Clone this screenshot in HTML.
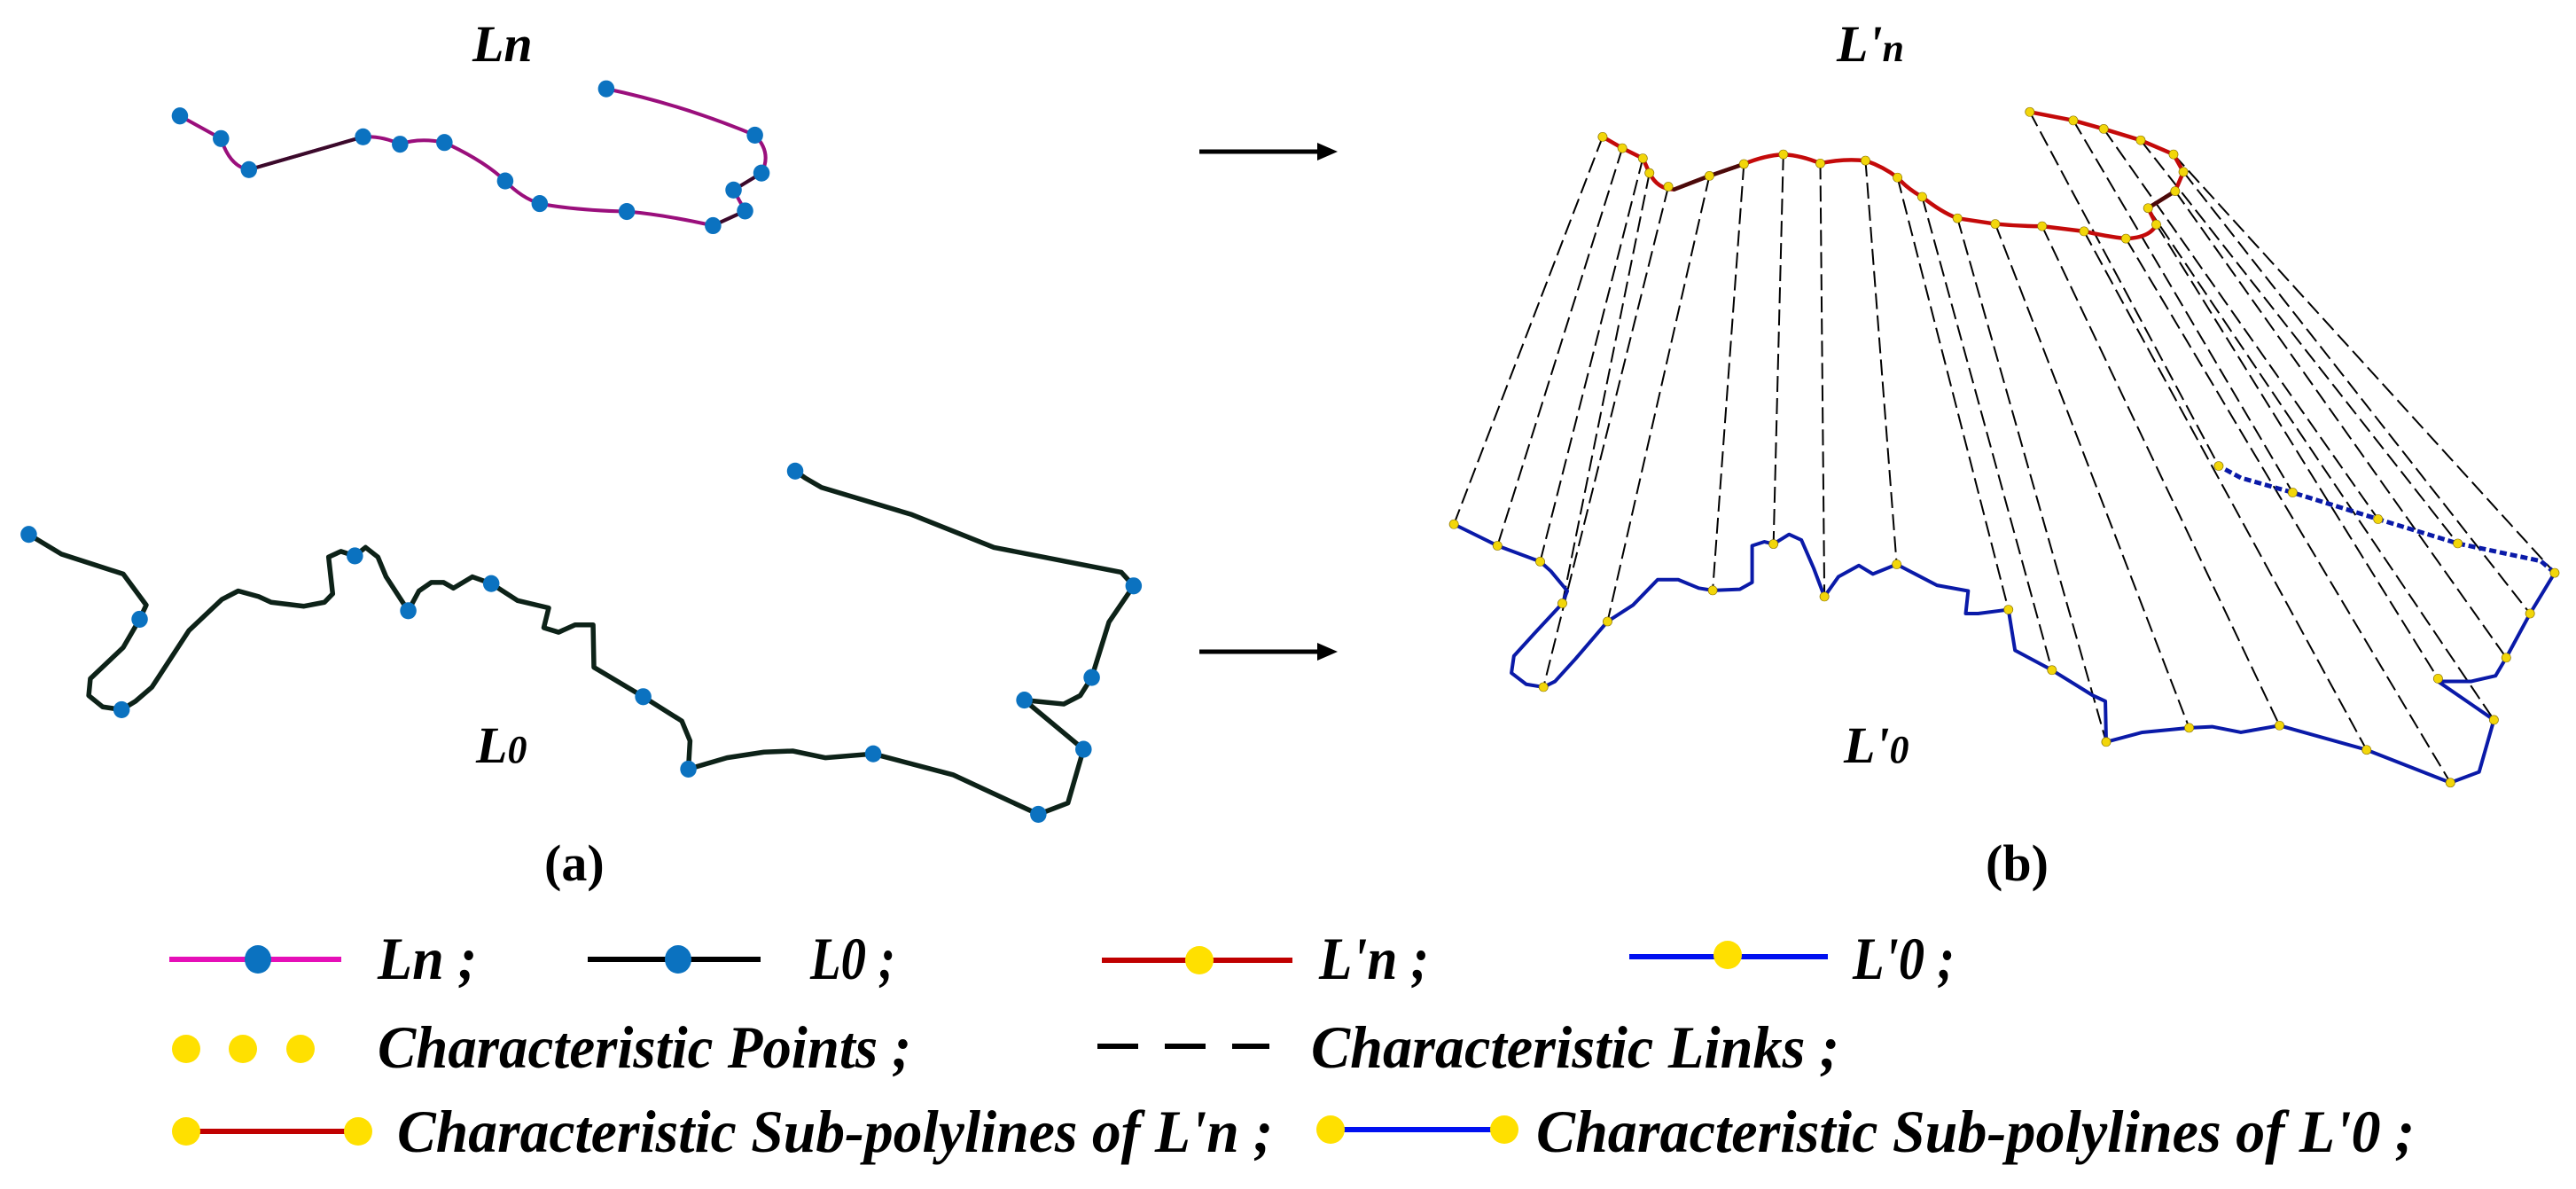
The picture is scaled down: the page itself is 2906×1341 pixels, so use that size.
<!DOCTYPE html>
<html><head><meta charset="utf-8"><style>
html,body{margin:0;padding:0;background:#fff;}
svg{display:block;}
text{font-family:"Liberation Serif",serif;font-weight:bold;font-style:italic;fill:#000;}
</style></head><body>
<svg width="2906" height="1341" viewBox="0 0 2906 1341" xmlns="http://www.w3.org/2000/svg">
<!-- LEFT PANEL in zoom coords -->
<g transform="scale(0.9267,0.6378)">
 <g fill="none" stroke-linejoin="round" stroke-linecap="round">
  <path vector-effect="non-scaling-stroke" stroke="#9a0f7c" stroke-width="4" d="M219,205 L269,245 Q280,295 303,300 L442,242 Q465,240 487,255 Q510,243 541,252 Q590,285 615,320 Q635,350 657,360 Q700,372 763,374 Q810,380 868,399 L907,373 L893,336 L927,306 Q940,270 919,239 Q830,185 738,157"/>
  <path vector-effect="non-scaling-stroke" stroke="#3a0a2a" stroke-width="4" d="M303,300 L442,242 M893,336 L927,306 M868,399 L907,373"/>
  <path vector-effect="non-scaling-stroke" stroke="#0d2218" stroke-width="5.5" d="M35,945 L75,980 L150,1015 L178,1070 L170,1095 L150,1145 L110,1200 L108,1230 L125,1250 L148,1255 L165,1240 L185,1215 L230,1115 L270,1060 L290,1045 L315,1055 L330,1065 L370,1072 L395,1065 L405,1050 L400,985 L415,975 L432,983 L445,968 L460,985 L470,1020 L497,1080 L510,1045 L525,1030 L540,1030 L552,1040 L575,1020 L598,1032 L630,1062 L668,1075 L662,1110 L680,1118 L700,1105 L722,1105 L723,1180 L783,1232 L830,1275 L840,1310 L838,1360 L885,1340 L930,1330 L965,1328 L1005,1340 L1063,1333 L1160,1370 L1264,1440 L1300,1420 L1312,1360 L1319,1325 L1247,1238 L1295,1245 L1315,1230 L1329,1198 L1350,1100 L1380,1036 L1365,1012 L1210,968 L1110,910 L1000,862 L980,845 L968,833"/>
 </g>
 <g fill="#0b72c0">
  <ellipse cx="219" cy="205" rx="10" ry="15"/><ellipse cx="269" cy="245" rx="10" ry="15"/><ellipse cx="303" cy="300" rx="10" ry="15"/><ellipse cx="442" cy="242" rx="10" ry="15"/><ellipse cx="487" cy="255" rx="10" ry="15"/><ellipse cx="541" cy="252" rx="10" ry="15"/><ellipse cx="615" cy="320" rx="10" ry="15"/><ellipse cx="657" cy="360" rx="10" ry="15"/><ellipse cx="763" cy="374" rx="10" ry="15"/><ellipse cx="868" cy="399" rx="10" ry="15"/><ellipse cx="907" cy="373" rx="10" ry="15"/><ellipse cx="893" cy="336" rx="10" ry="15"/><ellipse cx="927" cy="306" rx="10" ry="15"/><ellipse cx="919" cy="239" rx="10" ry="15"/><ellipse cx="738" cy="157" rx="10" ry="15"/>
  <ellipse cx="35" cy="945" rx="10" ry="15"/><ellipse cx="170" cy="1095" rx="10" ry="15"/><ellipse cx="148" cy="1255" rx="10" ry="15"/><ellipse cx="432" cy="983" rx="10" ry="15"/><ellipse cx="497" cy="1080" rx="10" ry="15"/><ellipse cx="598" cy="1032" rx="10" ry="15"/><ellipse cx="783" cy="1232" rx="10" ry="15"/><ellipse cx="838" cy="1360" rx="10" ry="15"/><ellipse cx="1063" cy="1333" rx="10" ry="15"/><ellipse cx="1264" cy="1440" rx="10" ry="15"/><ellipse cx="1319" cy="1325" rx="10" ry="15"/><ellipse cx="1247" cy="1238" rx="10" ry="15"/><ellipse cx="1329" cy="1198" rx="10" ry="15"/><ellipse cx="1380" cy="1036" rx="10" ry="15"/><ellipse cx="968" cy="833" rx="10" ry="15"/>
 </g>
</g>
<!-- RIGHT PANEL -->
<g transform="translate(1453,0) scale(0.9267,0.6378)">
 <g fill="none" stroke="#000" stroke-dasharray="18 7">
  <path vector-effect="non-scaling-stroke" stroke-width="2" d="M383,242L202,927 M407,262L255,965 M432,280L307,993 M440,306L334,1067 M463,330L311,1215 M513,311L389,1099 M555,290L517,1044 M603,273L591,962 M648,289L653,1055 M703,284L741,998 M742,314L877,1078 M772,348L930,1185 M815,386L996,1312 M861,396L1097,1287 M918,400L1207,1283 M969,409L1313,1326 M1020,422L1415,1384 M1057,397L1400,1200 M1047,368L1468,1273 M1080,338L1483,1163 M1090,304L1512,1085 M1078,273L1542,1013 M1038,248L1424,961 M993,228L1327,918 M956,213L1223,871 M903,198L1133,824"/>
 </g>
 <g fill="none" stroke-linejoin="round" stroke-linecap="round">
  <path vector-effect="non-scaling-stroke" stroke="#c40a0a" stroke-width="4.5" d="M383,242 L407,262 L432,280 L440,306 Q450,335 470,335 L513,311 L555,290 Q580,275 603,273 Q625,275 648,289 Q675,280 703,284 Q725,295 742,314 Q755,335 772,348 Q795,375 815,386 L861,396 Q890,400 918,400 L969,409 Q995,418 1020,422 Q1050,420 1057,397 L1047,368 L1080,338 L1090,304 L1078,273 L1038,248 L993,228 L956,213 L903,198"/>
  <path vector-effect="non-scaling-stroke" stroke="#4a0a0a" stroke-width="4.5" d="M470,335 L513,311 L555,290 M1047,368 L1080,338"/>
  <path vector-effect="non-scaling-stroke" stroke="#0a1aa8" stroke-width="4" d="M202,927 L255,965 L307,993 L320,1010 L340,1045 L334,1067 L300,1120 L275,1160 L272,1190 L290,1210 L311,1215 L325,1205 L350,1165 L389,1099 L420,1070 L450,1025 L475,1025 L500,1040 L517,1044 L550,1042 L565,1030 L565,965 L580,958 L591,962 L610,945 L625,955 L640,1005 L653,1055 L670,1020 L695,1000 L712,1015 L741,998 L790,1035 L828,1045 L825,1085 L840,1085 L877,1078 L885,1150 L930,1185 L980,1230 L995,1240 L996,1312 L1040,1295 L1097,1287 L1125,1285 L1160,1295 L1207,1283 L1313,1326 L1415,1384 L1450,1365 L1468,1273 L1400,1205 L1440,1205 L1470,1195 L1483,1163 L1512,1085 L1542,1013"/>
  <path vector-effect="non-scaling-stroke" stroke="#0a1aa8" stroke-width="5" stroke-linecap="butt" stroke-dasharray="8 4" d="M1542,1013 L1525,992 L1424,961 L1327,918 L1223,871 L1160,845 L1133,824"/>
 </g>
 <g fill="#f2d60a" stroke="#8a7200" stroke-width="0.8">
  <ellipse cx="383" cy="242" rx="5.5" ry="8"/><ellipse cx="407" cy="262" rx="5.5" ry="8"/><ellipse cx="432" cy="280" rx="5.5" ry="8"/><ellipse cx="440" cy="306" rx="5.5" ry="8"/><ellipse cx="463" cy="330" rx="5.5" ry="8"/><ellipse cx="513" cy="311" rx="5.5" ry="8"/><ellipse cx="555" cy="290" rx="5.5" ry="8"/><ellipse cx="603" cy="273" rx="5.5" ry="8"/><ellipse cx="648" cy="289" rx="5.5" ry="8"/><ellipse cx="703" cy="284" rx="5.5" ry="8"/><ellipse cx="742" cy="314" rx="5.5" ry="8"/><ellipse cx="772" cy="348" rx="5.5" ry="8"/><ellipse cx="815" cy="386" rx="5.5" ry="8"/><ellipse cx="861" cy="396" rx="5.5" ry="8"/><ellipse cx="918" cy="400" rx="5.5" ry="8"/><ellipse cx="969" cy="409" rx="5.5" ry="8"/><ellipse cx="1020" cy="422" rx="5.5" ry="8"/><ellipse cx="1057" cy="397" rx="5.5" ry="8"/><ellipse cx="1047" cy="368" rx="5.5" ry="8"/><ellipse cx="1080" cy="338" rx="5.5" ry="8"/><ellipse cx="1090" cy="304" rx="5.5" ry="8"/><ellipse cx="1078" cy="273" rx="5.5" ry="8"/><ellipse cx="1038" cy="248" rx="5.5" ry="8"/><ellipse cx="993" cy="228" rx="5.5" ry="8"/><ellipse cx="956" cy="213" rx="5.5" ry="8"/><ellipse cx="903" cy="198" rx="5.5" ry="8"/>
  <ellipse cx="202" cy="927" rx="5.5" ry="8"/><ellipse cx="255" cy="965" rx="5.5" ry="8"/><ellipse cx="307" cy="993" rx="5.5" ry="8"/><ellipse cx="334" cy="1067" rx="5.5" ry="8"/><ellipse cx="311" cy="1215" rx="5.5" ry="8"/><ellipse cx="389" cy="1099" rx="5.5" ry="8"/><ellipse cx="517" cy="1044" rx="5.5" ry="8"/><ellipse cx="591" cy="962" rx="5.5" ry="8"/><ellipse cx="653" cy="1055" rx="5.5" ry="8"/><ellipse cx="741" cy="998" rx="5.5" ry="8"/><ellipse cx="877" cy="1078" rx="5.5" ry="8"/><ellipse cx="930" cy="1185" rx="5.5" ry="8"/><ellipse cx="996" cy="1312" rx="5.5" ry="8"/><ellipse cx="1097" cy="1287" rx="5.5" ry="8"/><ellipse cx="1207" cy="1283" rx="5.5" ry="8"/><ellipse cx="1313" cy="1326" rx="5.5" ry="8"/><ellipse cx="1415" cy="1384" rx="5.5" ry="8"/><ellipse cx="1468" cy="1273" rx="5.5" ry="8"/><ellipse cx="1400" cy="1200" rx="5.5" ry="8"/><ellipse cx="1483" cy="1163" rx="5.5" ry="8"/><ellipse cx="1512" cy="1085" rx="5.5" ry="8"/><ellipse cx="1542" cy="1013" rx="5.5" ry="8"/><ellipse cx="1424" cy="961" rx="5.5" ry="8"/><ellipse cx="1327" cy="918" rx="5.5" ry="8"/><ellipse cx="1223" cy="871" rx="5.5" ry="8"/><ellipse cx="1133" cy="824" rx="5.5" ry="8"/>
 </g>
</g>
<!-- arrows -->
<g stroke="#000" stroke-width="5" fill="#000">
 <line x1="1353" y1="171" x2="1490" y2="171"/><polygon points="1509,171 1486,161 1486,181" stroke="none"/>
 <line x1="1353" y1="735" x2="1490" y2="735"/><polygon points="1509,735 1486,725 1486,745" stroke="none"/>
</g>
<!-- labels -->
<text x="533" y="69" font-size="58">Ln</text>
<text x="537" y="860" font-size="58">L<tspan font-size="44">0</tspan></text>
<text x="2072" y="69" font-size="58">L'<tspan font-size="44">n</tspan></text>
<text x="2080" y="860" font-size="58">L'<tspan font-size="44">0</tspan></text>
<text x="614" y="993" font-size="58" style="font-style:normal">(a)</text>
<text x="2240" y="993" font-size="58" style="font-style:normal">(b)</text>
<!-- legend row 1 -->
<line x1="191" y1="1082" x2="385" y2="1082" stroke="#e60fb8" stroke-width="6"/>
<ellipse cx="291" cy="1082" rx="15" ry="16" fill="#0b72c0"/>
<text x="426" y="1104" font-size="68" textLength="112" lengthAdjust="spacingAndGlyphs">Ln ;</text>
<line x1="663" y1="1082" x2="858" y2="1082" stroke="#000" stroke-width="6"/>
<ellipse cx="765" cy="1082" rx="15" ry="16" fill="#0b72c0"/>
<text x="914" y="1104" font-size="68" textLength="96" lengthAdjust="spacingAndGlyphs">L0 ;</text>
<line x1="1243" y1="1083" x2="1458" y2="1083" stroke="#c00000" stroke-width="6"/>
<ellipse cx="1353" cy="1083" rx="16" ry="16" fill="#ffe000"/>
<text x="1488" y="1104" font-size="68" textLength="124" lengthAdjust="spacingAndGlyphs">L'n ;</text>
<line x1="1838" y1="1079" x2="2062" y2="1079" stroke="#0010f0" stroke-width="6"/>
<ellipse cx="1949" cy="1077" rx="16" ry="16" fill="#ffe000"/>
<text x="2090" y="1104" font-size="68" textLength="115" lengthAdjust="spacingAndGlyphs">L'0 ;</text>
<!-- row 2 -->
<circle cx="210" cy="1183" r="16" fill="#ffe000"/><circle cx="274" cy="1183" r="16" fill="#ffe000"/><circle cx="339" cy="1183" r="16" fill="#ffe000"/>
<text x="426" y="1204" font-size="68" textLength="602" lengthAdjust="spacingAndGlyphs">Characteristic Points ;</text>
<line x1="1238" y1="1180" x2="1432" y2="1180" stroke="#000" stroke-width="6" stroke-dasharray="46 30"/>
<text x="1479" y="1204" font-size="68" textLength="596" lengthAdjust="spacingAndGlyphs">Characteristic Links ;</text>
<!-- row 3 -->
<line x1="208" y1="1276" x2="404" y2="1276" stroke="#c00000" stroke-width="6"/>
<circle cx="210" cy="1276" r="16" fill="#ffe000"/><circle cx="404" cy="1276" r="16" fill="#ffe000"/>
<text x="448" y="1299" font-size="68" textLength="988" lengthAdjust="spacingAndGlyphs">Characteristic Sub-polylines of L'n ;</text>
<line x1="1501" y1="1274" x2="1697" y2="1274" stroke="#0010f0" stroke-width="6"/>
<circle cx="1501" cy="1274" r="16" fill="#ffe000"/><circle cx="1697" cy="1274" r="16" fill="#ffe000"/>
<text x="1733" y="1299" font-size="68" textLength="991" lengthAdjust="spacingAndGlyphs">Characteristic Sub-polylines of L'0 ;</text>
</svg>
</body></html>
